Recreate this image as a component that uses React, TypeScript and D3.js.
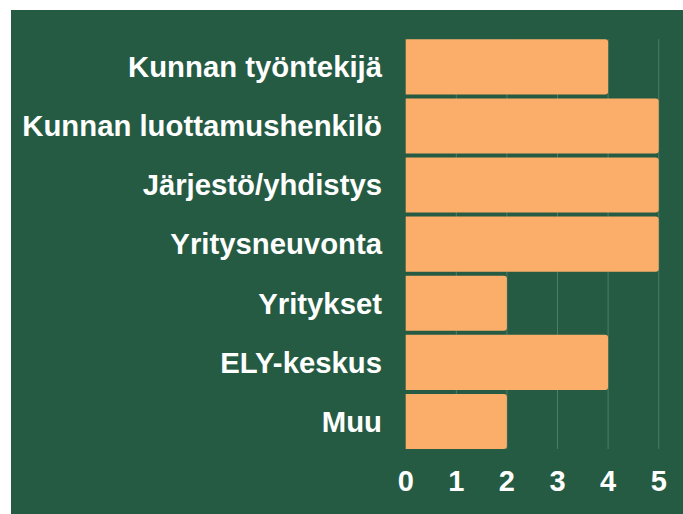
import React from "react";
import * as d3 from "d3";

const categories = [
  "Kunnan työntekijä",
  "Kunnan luottamushenkilö",
  "Järjestö/yhdistys",
  "Yritysneuvonta",
  "Yritykset",
  "ELY-keskus",
  "Muu",
];
const values = [4, 5, 5, 5, 2, 4, 2];
const ticks = [0, 1, 2, 3, 4, 5];

const W = 683;
const H = 514;

export default function App() {
  const x = d3.scaleLinear().domain([0, 5]).range([405.7, 658.7]);
  const y = d3
    .scaleBand<string>()
    .domain(categories)
    .range([37.3, 451])
    .paddingInner(0.068)
    .paddingOuter(0.034);
  const bw = y.bandwidth();
  const r = 3;
  const barPath = (v: number, yy: number) => {
    const x0 = x(0);
    const x1 = x(v);
    return `M${x0},${yy}H${x1 - r}Q${x1},${yy} ${x1},${yy + r}V${yy + bw - r}Q${x1},${yy + bw} ${x1 - r},${yy + bw}H${x0}Z`;
  };
  return (
    <svg
      width={W}
      height={H}
      style={{ position: "absolute", left: 0, top: 0, background: "#fff" }}
      fontFamily="'Liberation Sans', Arial, sans-serif"
    >
      <rect x={11} y={10} width={W - 11} height={H - 10} fill="#255B43" />
      {ticks.slice(1).map((t) => (
        <line
          key={t}
          x1={x(t)}
          x2={x(t)}
          y1={39}
          y2={449}
          stroke="#4E7C64"
          strokeWidth={1}
        />
      ))}
      {categories.map((c, i) => (
        <path
          key={c}
          d={barPath(values[i], y(c)!)}
          fill="#FBAE6A"
        />
      ))}
      {categories.map((c) => (
        <text
          key={c}
          x={382}
          y={y(c)! + bw / 2}
          dy="0.35em"
          textAnchor="end"
          fill="#fff"
          fontWeight="bold"
          fontSize={29.3}
        >
          {c}
        </text>
      ))}
      {ticks.map((t) => (
        <text
          key={t}
          x={x(t)}
          y={481}
          dy="0.35em"
          textAnchor="middle"
          fill="#fff"
          fontWeight="bold"
          fontSize={29}
        >
          {t}
        </text>
      ))}
    </svg>
  );
}
